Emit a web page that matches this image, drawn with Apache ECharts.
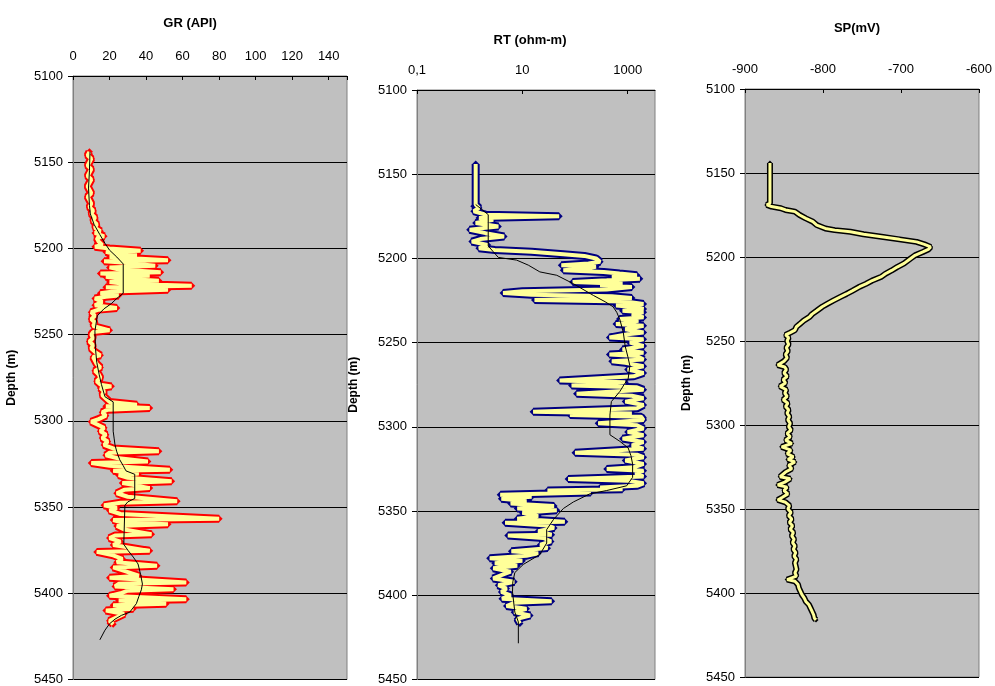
<!DOCTYPE html>
<html><head><meta charset="utf-8">
<script src="https://cdn.jsdelivr.net/npm/echarts@6/dist/echarts.min.js"></script>
<style>html,body{margin:0;padding:0;background:#fff}#c{width:995px;height:686px}</style>
</head><body><div id="c"></div>
<script>
// ---- data: [depth (m), value] ----
const grCurve = [
[5144,9],[5146,8],[5148,10],[5150,9],[5152,8],[5154,10],[5156,9],[5158,8],[5160,10],[5162,9],[5164,8],[5166,9],[5168,10],[5170,8],[5172,9],[5174,10],[5176,9],[5178,11],[5180,10],[5182,12],[5184,11],[5186,13],[5188,12],[5190,15],[5191,12],[5193,17],[5194,13],[5196,14],[5198,16],[5199,12],
[5200,20],[5201.4,37],[5202,18],[5203,22],[5204,35],[5205,20],[5206.8,52],[5207.5,17],[5208,25],[5210,45],[5211,20],[5212,24],[5213.8,48],[5214.5,15],[5215.8,42],[5216.5,18],[5217.5,25],[5218.7,47],[5219.5,20],[5220.5,28],[5221.6,65],[5222.5,18],[5223.9,52],[5225,22],[5226,15],[5227.3,25],[5228,18],[5229,12],
[5231,16],[5233,12],[5234.5,24],[5235.5,14],[5237,10],[5239,12],[5241,10],[5243,12],[5245,11],[5247.5,20],[5248.5,11],[5250,10],[5252,11],[5254,9],[5256,11],[5258,10],[5260,12],[5262,15],[5263,11],[5265,12],[5267,13],[5269,15],[5271,12],[5273,14],[5275,15],[5277,13],[5279,15],[5280,21],[5281,15],[5283,17],[5285,16],[5287,18],[5289,20],
[5290.7,35],[5291.5,18],[5292.6,42],[5293.5,19],[5295,16],[5297,18],[5299,14],[5300.5,10],[5302,13],[5304,17],[5306,15],[5308,18],[5310,16],[5312,19],[5314,17],[5316,22],[5317.6,47],[5318.5,20],[5320,18],[5321.5,24],[5323.5,41],[5324.5,10],[5326,20],[5328.3,53],[5329,22],[5330.6,36],[5331.5,25],[5333,30],[5335,54],[5336,27],[5337,32],[5339,42],[5340,28],[5342,24],[5344,30],[5346.6,57],[5347.5,26],[5349,17],
[5350.5,24],[5352,20],[5354,26],[5356.8,80],[5357.5,22],[5359,27],[5360,52],[5361,24],[5363,28],[5365.8,43],[5366.5,23],[5368,20],[5370,26],[5372,22],[5375.4,42],[5376,13],[5378,22],[5380,27],[5382,24],[5384,46],[5385,22],[5387,28],[5389.8,36],[5391,20],[5393.7,62],[5394.5,25],[5396,23],[5397.6,55],[5398.5,30],[5400,26],[5401.5,20],[5403.4,62],[5404.2,25],[5406,51],[5407,22],[5409,33],[5410,18],[5412,28],[5414,24],[5416,20],[5418,22]
];
const grTrend = [
[5144,9.3],[5155,9],[5165,8.5],[5175,9],[5180,9.5],[5186,11.5],[5192,14.7],[5197,17.5],[5201,20],[5205,24],[5209,27.5],[5226,27.5],[5229,24],[5232,21],[5235,17],[5239,13.3],[5248,12],[5258,12.3],[5266,13],[5273,14.3],[5279,15.6],[5286,17.5],[5289,22],[5306,22],[5310,22.5],[5314,23],[5318,24],[5322.6,25.6],[5326,27.5],[5329,29],[5331,33.8],[5345,33.8],[5347,30],[5349,28.4],[5371.6,27.8],[5375,30],[5379,33],[5383,35.6],[5389,37],[5394.6,38],[5398,37.4],[5402,36],[5406,34.7],[5411,31],[5412.8,26.5],[5415,23],[5417.7,20],[5421.4,17.5],[5427,14.7]
];
const rtCurve = [
[5144,1.3],[5168,1.3],[5169,1.2],[5170,1.5],[5172,1.2],[5174,2.0],[5175,50],[5176,1.5],[5177,2.8],[5179,1.3],[5181,3.5],[5182,1.8],[5183,1.0],[5185,2.0],[5187,4.5],[5188.5,1.6],[5190,1.1],[5192,2.2],[5194,1.5],[5195,3],[5196,15],[5197.5,60],[5198.5,150],[5200,250],[5202,300],[5203,180],[5204,55],[5205,250],[5206,150],[5207,60],[5208,350],[5209,700],[5210,1500],[5211,500],[5212,1700],[5213,400],[5214,90],[5215,800],[5216,300],[5217,1200],[5218.5,400],[5219.5,10],[5220.5,4.3],[5221.5,15],[5222.5,500],[5223.5,1200],[5224.7,17],[5225.5,900],
[5227,2000],[5228,600],[5229,1500],[5230,2000],[5231,800],[5232,2000],[5233,1200],[5235,2000],[5236,700],[5237,1600],[5239,600],[5240,2000],[5242,900],[5244,2000],[5245,1000],[5247,450],[5248,2000],[5250,1100],[5252,2000],[5254,800],[5256,2000],[5257,450],[5258,1500],[5260,2000],[5261,500],[5262,900],[5264,2000],[5266,1000],[5268,2000],[5270,1300],[5272.5,51],[5273.5,900],[5275.4,86],[5276.5,1500],[5278,2000],[5280.3,107],[5281.5,1200],[5283,2000],[5285,900],[5287,2000],[5289,1500],[5291,16],[5292,1200],[5293,80],[5294,1800],[5296,2000],[5297.8,275],[5299,1500],
[5301,2000],[5303,1000],[5305,2000],[5307,800],[5309,2000],[5311,1200],[5313,2000],[5315.4,100],[5316.5,1500],[5318,2000],[5320,900],[5322,2000],[5324,1300],[5325,400],[5326,2000],[5328,1400],[5329.5,2000],[5331,74],[5332,1000],[5333.5,2000],[5335,1500],[5336,300],[5337,800],[5337.8,30],[5339,200],[5340.3,3.8],[5341.5,15],[5342.7,4],[5344,12],[5345.5,6],[5347,40],[5348.5,8],[5349.5,45],[5351,10],[5353,20],[5354.5,8],[5356.3,64],[5357,4.7],[5358.5,30],[5360,40],[5362,20],[5364,36],[5364.5,5.3],[5366,25],[5368,35],[5370,22],[5372,30],[5373.9,6.2],[5375,20],[5376.5,12],[5378,2.4],[5379.5,10],[5381,3],[5382.5,8],[5384,2.8],[5386,6],[5388,4],[5390,2.8],[5392,7],[5394,3.5],[5396,5],[5398,4],[5400,6],[5402,4.1],[5403.5,36],[5404.5,7],[5406.4,5],[5408,12],[5410,7],[5412,14],[5414,8],[5416.8,9]
];
const rtTrend = [
[5168,1.3],[5174,2.25],[5192.6,2.25],[5196,2.8],[5199.4,3.5],[5201,7.8],[5204,13],[5208,21.5],[5210,45],[5215,93],[5222,224],[5225.7,372],[5228.7,528],[5232,620],[5236.4,712],[5244,826],[5252,895],[5258,1000],[5263.7,1100],[5271.5,1020],[5275,850],[5279,710],[5285,490],[5293,460],[5304.7,460],[5308.6,710],[5312.5,1020],[5317,1150],[5322,1240],[5330,1240],[5335,955],[5337.8,400],[5339.8,190],[5344.6,93],[5348.5,60],[5355,39],[5361,29],[5369,29],[5375.8,21.5],[5381.7,10.4],[5386.5,7.2],[5392,6.6],[5398,6.5],[5410,7.2],[5415.8,8.4],[5428.5,8.4]
];
const spCurve = [
[5144,-868],[5168,-868],[5169,-872],[5170,-866],[5171,-854],[5172,-848],[5173,-836],[5175,-830],[5177,-822],[5179,-813],[5181,-808],[5183,-797],[5184,-785],[5185,-765],[5186.5,-748],[5188,-725],[5189.5,-702],[5191,-680],[5192.5,-670],[5194,-662],[5195.5,-665],[5197,-672],[5199,-682],[5201,-688],[5203.8,-696],[5206,-705],[5208,-712],[5210,-720],[5211.7,-725],[5214,-737],[5216,-745],[5217.7,-753],[5220,-762],[5222,-770],[5223.6,-777],[5226,-787],[5228,-795],[5229.6,-801],[5232,-808],[5234,-814],[5235.5,-817],[5238,-825],[5240,-830],[5241.5,-834],[5243.5,-836],[5245,-842],[5246.4,-848],[5248,-844],[5250,-846],
[5252,-844],[5254,-847],[5256,-845],[5258,-848],[5260,-846],[5262,-850],[5264.3,-858],[5265.5,-849],[5267,-847],[5269,-850],[5271,-846],[5273,-851],[5275,-848],[5277,-855],[5279,-847],[5281,-849],[5283,-846],[5285,-851],[5287,-845],[5289,-848],[5291,-844],[5293,-846],[5295,-843],[5297,-845],[5299,-842],[5301,-844],[5303,-841],[5305,-846],[5307,-842],[5309,-848],[5311,-840],[5313,-853],[5315,-841],[5317,-846],[5319,-838],[5320.5,-845],[5322,-836],[5324,-844],[5326,-840],[5328,-848],[5330.8,-855],[5332,-842],[5334,-849],[5335.7,-858],[5337,-846],[5339,-850],[5341,-845],[5343,-852],[5344.6,-858],[5346,-848],[5348,-843],
[5350,-845],[5352,-841],[5354,-844],[5356,-840],[5358,-843],[5360,-839],[5362,-842],[5364,-838],[5366,-840],[5368,-837],[5370,-839],[5372,-836],[5374,-838],[5376,-835],[5378,-837],[5380,-834],[5382,-836],[5384,-835],[5386,-834],[5388,-836],[5390,-834],[5392,-846],[5393,-836],[5395,-832],[5397,-831],[5399,-829],[5401,-827],[5403,-824],[5405,-822],[5407,-818],[5409,-816],[5411,-814],[5413,-812],[5415,-811],[5416,-809]
];
// ---- axis settings ----
const depthMin = 5100, depthMax = 5450, depthStep = 50;
const grMin = 0, grMax = 150, grStep = 20;
const rtMin = 0.1, rtMax = 3300, rtTicks = [0.1, 10, 1000];
const spMin = -900, spMax = -600, spStep = 100;
const titles = ['GR (API)', 'RT (ohm-m)', 'SP(mV)'];

const FONT = 'Liberation Sans, Arial, sans-serif';
const YELLOW = '#FFFF99';
const grids = [
  {left:73, top:76, width:274, height:607},
  {left:417, top:90, width:238, height:598},
  {left:745, top:89, width:248, height:588}
].map(g => Object.assign(g, {show:true, backgroundColor:'#C0C0C0', borderColor:'#808080', borderWidth:1}));

function xBase(gi){
  return {gridIndex:gi, position:'top',
    axisLine:{show:true, onZero:false, lineStyle:{color:'#000', width:1}},
    axisTick:{show:true, inside:true, length:4, lineStyle:{color:'#000'}},
    axisLabel:{margin:13, color:'#000', fontSize:13, fontFamily:FONT},
    splitLine:{show:false}};
}
const xAxes = [
  Object.assign(xBase(0), {type:'value', min:grMin, max:grMax, interval:grStep}),
  Object.assign(xBase(1), {type:'log', logBase:10, min:rtMin, max:rtMax}),
  Object.assign(xBase(2), {type:'value', min:spMin, max:spMax, interval:spStep})
];
xAxes[0].axisLabel.formatter = v => v > 140 ? '' : String(v);
xAxes[1].axisLabel.customValues = rtTicks;
xAxes[1].axisTick.customValues = rtTicks;
xAxes[1].axisLabel.formatter = v => v < 1 ? '0,1' : String(Math.round(v));
xAxes[2].axisLabel.formatter = v => String(v);
const nameGaps = [55, 57, 52];
const yAxes = [0,1,2].map(gi => ({
  gridIndex:gi, type:'value', inverse:true, min:depthMin, max:depthMax, interval:depthStep,
  name:'Depth (m)', nameLocation:'middle', nameGap:nameGaps[gi],
  nameTextStyle:{fontWeight:'bold', fontSize:12, color:'#000', fontFamily:FONT},
  axisLine:{show:true, onZero:false, lineStyle:{color:'#808080'}},
  axisTick:{show:true, inside:false, length:5, lineStyle:{color:'#000'}},
  axisLabel:{margin:10, color:'#000', fontSize:13, fontFamily:FONT, formatter: v => String(v)},
  splitLine:{show:true, lineStyle:{color:'#000', width:1}}
}));

function toXY(arr){ return arr.map(p => [p[1], p[0]]); }
function outline(arr, gi, color, w, s){
  return {type:'line', xAxisIndex:gi, yAxisIndex:gi, data:toXY(arr), symbol:'diamond', symbolSize:s, showSymbol:true,
    itemStyle:{color:color}, lineStyle:{color:color, width:w}, animation:false, silent:true, z:2};
}
function inner(arr, gi, w){
  return {type:'line', xAxisIndex:gi, yAxisIndex:gi, data:toXY(arr), symbol:'none',
    lineStyle:{color:YELLOW, width:w}, animation:false, silent:true, z:3};
}
function trend(arr, gi){
  return {type:'line', xAxisIndex:gi, yAxisIndex:gi, data:toXY(arr), symbol:'none',
    lineStyle:{color:'#000', width:1}, animation:false, silent:true, z:4};
}
const series = [
  outline(grCurve, 0, '#FF0000', 8, 7), inner(grCurve, 0, 4), trend(grTrend, 0),
  outline(rtCurve, 1, '#000080', 8, 7), inner(rtCurve, 1, 4), trend(rtTrend, 1),
  outline(spCurve, 2, '#000000', 6, 5), inner(spCurve, 2, 3)
];
const titlePos = [[190,23],[530,40],[857,28]];
const graphic = titles.map((t,i) => ({type:'text', x:titlePos[i][0], y:titlePos[i][1],
  style:{text:t, fill:'#000', font:'bold 13px ' + FONT, textAlign:'center', textVerticalAlign:'middle'}}));

const chart = echarts.init(document.getElementById('c'));
chart.setOption({animation:false, backgroundColor:'#fff', grid:grids, xAxis:xAxes, yAxis:yAxes, series:series, graphic:graphic});
</script></body></html>
